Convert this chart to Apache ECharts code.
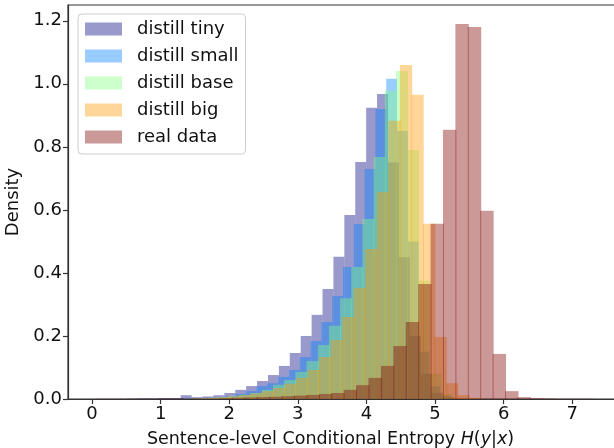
<!DOCTYPE html>
<html><head><meta charset="utf-8">
<script src="https://cdn.jsdelivr.net/npm/echarts@6/dist/echarts.min.js"></script>
<style>html,body{margin:0;padding:0;background:#fff}#c{width:614px;height:448px}</style>
</head><body><div id="c"></div>
<script>
// Histogram definitions: start of first bin, bin width, bin heights (density)
const seriesNames = ['distill tiny', 'distill small', 'distill base', 'distill big', 'real data'];

const tinyStart = 0.498, tinyWidth = 0.159;
const tinyHeights = [0.001, 0.002, 0.002, 0.003, 0.003, 0.012, 0.006, 0.008, 0.012, 0.019, 0.029, 0.041, 0.057, 0.076, 0.105, 0.146, 0.2, 0.267, 0.349, 0.451, 0.584, 0.752, 0.924, 0.968, 0.75, 0.45, 0.2, 0.08, 0.02, 0.005];

const smallStart = 1.298, smallWidth = 0.1574;
const smallHeights = [0.002, 0.003, 0.004, 0.005, 0.008, 0.016, 0.025, 0.041, 0.05, 0.07, 0.092, 0.133, 0.184, 0.244, 0.327, 0.419, 0.555, 0.73, 0.92, 1.016, 0.85, 0.5, 0.15, 0.04, 0.01];

const baseStart = 1.34, baseWidth = 0.163;
const baseHeights = [0.002, 0.003, 0.004, 0.006, 0.01, 0.013, 0.019, 0.029, 0.045, 0.06, 0.086, 0.12, 0.171, 0.232, 0.32, 0.419, 0.571, 0.768, 0.978, 1.041, 0.79, 0.375, 0.08, 0.015];

const bigStart = 1.469, bigWidth = 0.168;
const bigHeights = [0.002, 0.003, 0.005, 0.008, 0.012, 0.018, 0.025, 0.035, 0.048, 0.067, 0.092, 0.133, 0.187, 0.26, 0.352, 0.476, 0.657, 0.883, 1.06, 0.965, 0.556, 0.197, 0.05, 0.012, 0.003];

const realStart = 0.055, realWidth = 0.181;
const realHeights = [0.001, 0.001, 0.001, 0.001, 0.001, 0.002, 0.002, 0.002, 0.002, 0.002, 0.003, 0.004, 0.005, 0.006, 0.007, 0.009, 0.011, 0.013, 0.016, 0.019, 0.029, 0.044, 0.067, 0.105, 0.168, 0.244, 0.365, 0.556, 0.854, 1.19, 1.18, 0.597, 0.143, 0.025, 0.006, 0.003, 0.002, 0.001, 0.001, 0.001];

const xTicks = [0, 1, 2, 3, 4, 5, 6, 7];
const yTicks = [0, 0.2, 0.4, 0.6, 0.8, 1.0, 1.2];

const colors = ['rgba(0,0,128,0.4)', 'rgba(0,127,255,0.4)', 'rgba(127,255,127,0.4)', 'rgba(255,153,0,0.4)', 'rgba(128,0,0,0.4)'];
const edgeOverlap = [0, 0, 0.4, 0.4, 0.5];

const FONT = 'DejaVu Sans';

function makeSeries(idx, start, width, heights) {
  const data = heights.map((h, i) => [start + i * width, start + (i + 1) * width, h]);
  const color = colors[idx];
  const ov = edgeOverlap[idx];
  return {
    type: 'custom',
    name: seriesNames[idx],
    data: data,
    encode: { x: [0, 1], y: 2 },
    itemStyle: { color: color },
    silent: true,
    clip: true,
    renderItem: function (params, api) {
      const p0 = api.coord([api.value(0), api.value(2)]);
      const p1 = api.coord([api.value(1), 0]);
      return {
        type: 'rect',
        shape: { x: p0[0] - ov, y: p0[1], width: p1[0] - p0[0] + 2 * ov, height: p1[1] - p0[1] },
        style: { fill: color }
      };
    }
  };
}

const chart = echarts.init(document.getElementById('c'), null, { renderer: 'canvas' });
chart.setOption({
  animation: false,
  backgroundColor: '#fff',
  grid: { left: 68, right: -4, top: 5, bottom: 49, containLabel: false, outerBoundsMode: 'none', show: true, borderColor: '#333', borderWidth: 1.2, backgroundColor: 'transparent' },
  legend: {
    orient: 'vertical', left: 78, top: 14,
    data: seriesNames,
    icon: 'rect', itemWidth: 37, itemHeight: 13, itemGap: 9,
    padding: [6, 7, 8, 7],
    backgroundColor: 'rgba(255,255,255,0.8)', borderColor: '#ccc', borderWidth: 1, borderRadius: 4,
    textStyle: { fontFamily: FONT, fontSize: 18, color: '#111', padding: [0, 0, 0, 10] }
  },
  xAxis: {
    type: 'value', min: -0.35, max: 7.667,
    axisLine: { show: true, onZero: false, lineStyle: { color: '#333', width: 1.2 } },
    axisTick: { show: true, length: 5, lineStyle: { color: '#333', width: 1.2 }, customValues: xTicks },
    axisLabel: { fontFamily: FONT, fontSize: 18, color: '#111', margin: 6, customValues: xTicks },
    splitLine: { show: false },
    name: '{n|Sentence-level Conditional Entropy }{i|H}{n|(}{i|y}{n||}{i|x}{n|)}',
    nameLocation: 'middle', nameGap: 31,
    nameTextStyle: {
      padding: [0, 25, 0, 0],
      rich: {
        n: { fontFamily: FONT, fontSize: 17.5, color: '#111' },
        i: { fontFamily: FONT, fontSize: 17.5, color: '#111', fontStyle: 'italic' }
      }
    }
  },
  yAxis: {
    type: 'value', min: 0, max: 1.25,
    axisLine: { show: true, onZero: false, lineStyle: { color: '#333', width: 1.2 } },
    axisTick: { show: true, length: 5, lineStyle: { color: '#333', width: 1.2 }, customValues: yTicks },
    axisLabel: { fontFamily: FONT, fontSize: 18, color: '#111', margin: 6, customValues: yTicks, formatter: v => v.toFixed(1) },
    splitLine: { show: false },
    name: 'Density', nameLocation: 'middle', nameGap: 44, nameRotate: 90,
    nameTextStyle: { fontFamily: FONT, fontSize: 18, color: '#111' }
  },
  series: [
    makeSeries(0, tinyStart, tinyWidth, tinyHeights),
    makeSeries(1, smallStart, smallWidth, smallHeights),
    makeSeries(2, baseStart, baseWidth, baseHeights),
    makeSeries(3, bigStart, bigWidth, bigHeights),
    makeSeries(4, realStart, realWidth, realHeights)
  ]
});
</script>
</body></html>
